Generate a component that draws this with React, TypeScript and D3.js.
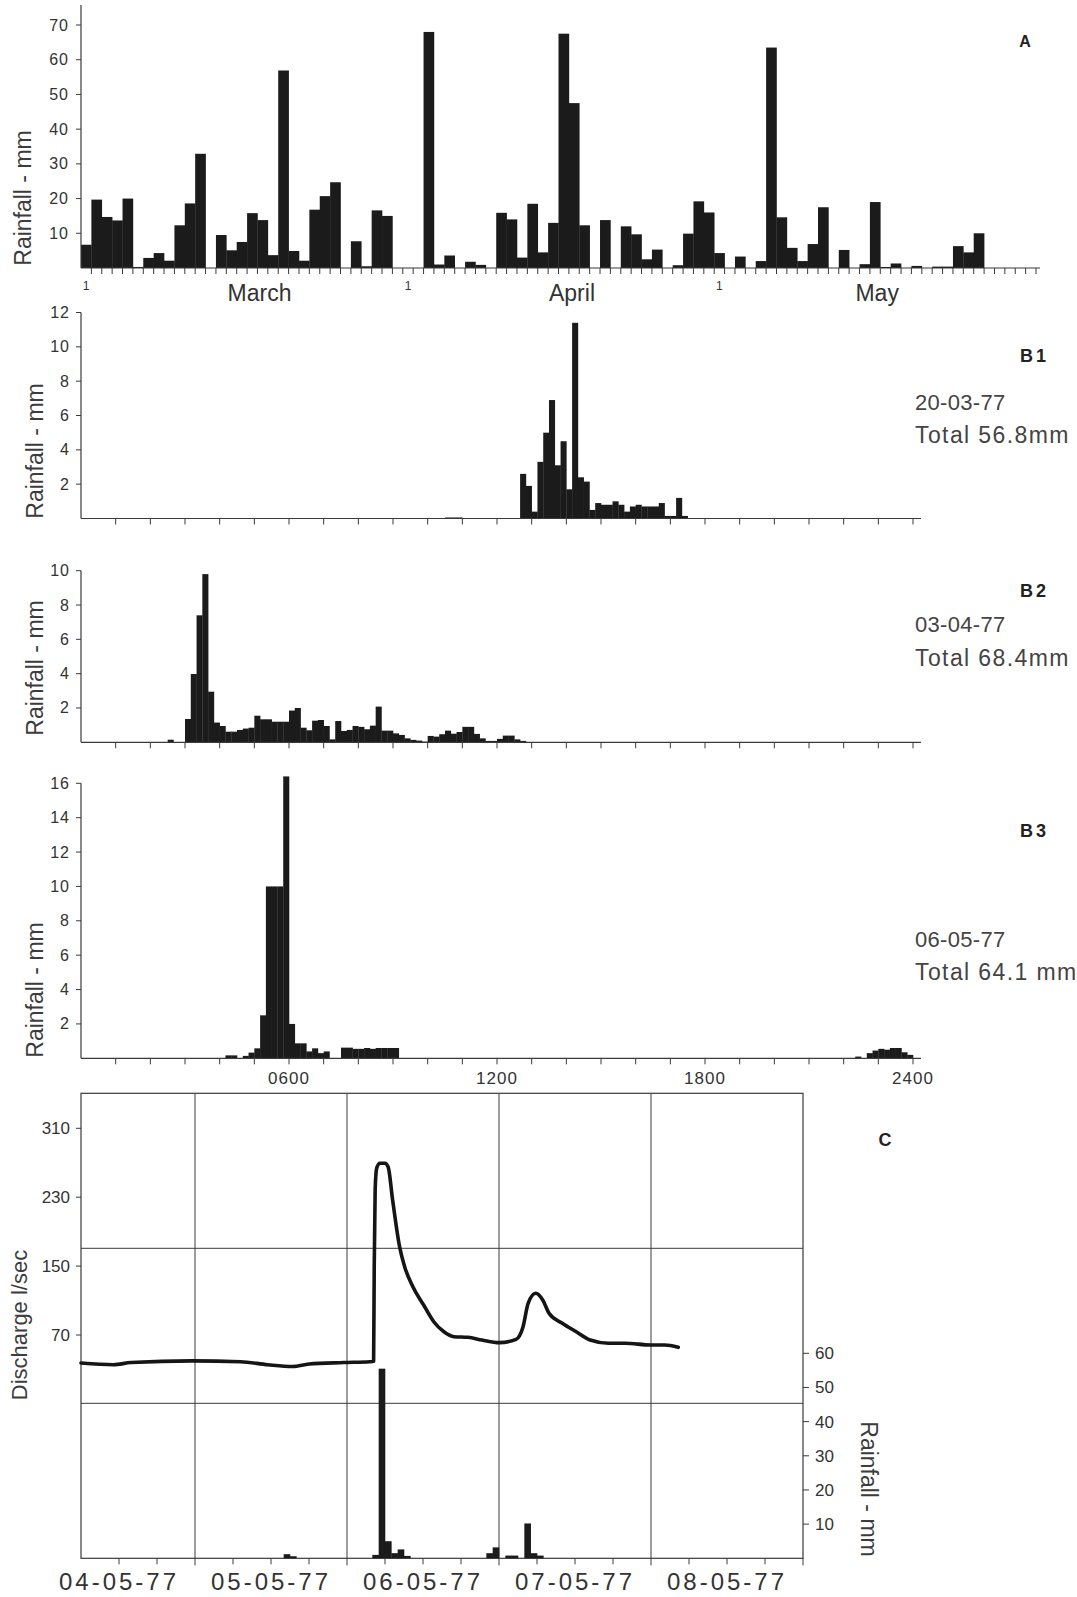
import React from "react";
import * as d3 from "d3";

// ---------------- DATA ----------------
// Panel A: daily rainfall (mm), 1 March .. 31 May 1977
const aDailyRainfall: number[] = [
  // March
  6.7, 19.7, 14.7, 13.7, 20, 0.3, 2.9, 4.3, 2.1, 12.3, 18.6, 32.9, 0, 9.5, 5.1, 7.5,
  15.8, 13.8, 3.7, 56.9, 4.9, 2.1, 16.8, 20.7, 24.7, 0, 7.7, 0.5, 16.6, 15, 0,
  // April
  0, 0, 68, 1, 3.6, 0, 1.8, 0.9, 0, 15.9, 14, 3, 18.5, 4.5, 13, 67.5, 47.5, 12.3, 0,
  13.8, 0, 12, 9.7, 2.5, 5.3, 0, 0.8, 9.9, 19.2, 16,
  // May
  4.3, 0, 3.3, 0, 2, 63.5, 14.6, 5.8, 2, 6.9, 17.5, 0, 5.2, 0, 1.1, 19, 0.3, 1.3, 0,
  0.6, 0, 0.4, 0.4, 6.3, 4.5, 10, 0, 0, 0, 0, 0,
];
const aMonthNames = ["March", "April", "May"];
const aMonthStartDay = [0, 31, 61];
const aMonthLabelDay = [17.2, 47.3, 76.7];
const aYTicks = [10, 20, 30, 40, 50, 60, 70];

// Panels B: 10-minute rainfall (mm), segments start at "HH:MM"
type Seg = { start: string; values: number[] };
const b1Segments: Seg[] = [
  { start: "10:30", values: [0.06, 0.06, 0.06] },
  {
    start: "12:40",
    values: [2.6, 1.9, 0.4, 3.3, 5.0, 6.9, 3.1, 4.5, 1.7, 11.4, 2.4, 2.15, 0.5, 0.9, 0.8,
      0.8, 1.0, 0.8, 0.4, 0.7, 0.8, 0.7, 0.7, 0.7, 0.9, 0.15, 0.15, 1.2, 0.15],
  },
];
const b2Segments: Seg[] = [
  { start: "02:30", values: [0.15] },
  {
    start: "03:00",
    values: [1.36, 3.98, 7.4, 9.8, 2.95, 1.15, 0.95, 0.62, 0.62, 0.72, 0.8, 0.85, 1.55, 1.34,
      1.34, 1.2, 1.2, 1.2, 1.85, 2.0, 0.85, 0.7, 1.26, 1.3, 0.95, 0.17, 1.24, 0.66, 0.72, 0.95,
      0.9, 0.76, 0.97, 2.08, 0.68, 0.68, 0.52, 0.43, 0.23, 0.14, 0.1, 0.04, 0.37, 0.33, 0.47,
      0.68, 0.5, 0.6, 0.9, 0.9, 0.49, 0.23, 0.08, 0.08, 0.2, 0.39, 0.39, 0.17, 0.08],
  },
];
const b3Segments: Seg[] = [
  { start: "04:10", values: [0.17, 0.17] },
  { start: "04:40", values: [0.14, 0.33, 0.58, 2.5, 10, 10, 10, 16.4, 2.0, 0.87, 0.87, 0.4, 0.58, 0.3, 0.4] },
  { start: "07:30", values: [0.62, 0.62, 0.55, 0.55, 0.6, 0.55, 0.6, 0.6, 0.6, 0.6] },
  { start: "22:20", values: [0.1, 0, 0.3, 0.45, 0.55, 0.5, 0.6, 0.6, 0.35, 0.2] },
];
const bHourLabels = ["0600", "1200", "1800", "2400"];
const bHourLabelHours = [6, 12, 18, 24];

// Panel C: discharge (l/sec) vs hours since 04-05-77 00:00
const cDischargeHours = [6, 11.1, 13.9, 23.6, 31.2, 35.5, 39.4, 42, 47.5, 51.6, 52.2, 52.3, 52.45,
  52.7, 53.2, 54.0, 54.5, 55.2, 56.3, 57.1, 58.4, 60.1, 61.7, 63.3, 64.9, 67.1, 69.3, 72, 74.7,
  75.8, 76.6, 77.8, 78.9, 79.9, 82, 84.2, 86.4, 89.3, 91.9, 96, 98.2, 100.3];
const cDischarge = [37.5, 35.5, 38, 40, 39, 35.5, 33.5, 36.3, 38, 39, 39.5, 150, 240,
  264, 269.5, 269.5, 265, 227, 172.6, 149.3, 126, 104.8, 85.4, 73.8, 68, 67.3, 64.2, 61.1, 65,
  79.6, 106.8, 118.4, 110.7, 95.2, 83.6, 73.8, 64.2, 60.4, 60.4, 58.4, 58.4, 55.7];
// Panel C: hourly rainfall (mm), segments start at hour since 04-05-77 00:00
const cRainSegments = [
  { start: 38, values: [1.2, 0.6] },
  { start: 52, values: [1.0, 55.5, 5.0, 1.5, 2.6, 0.7] },
  { start: 70, values: [1.5, 3.2] },
  { start: 73, values: [0.8, 0.8] },
  { start: 76, values: [10.2, 1.5, 0.8] },
];
const cDischargeTicks = [70, 150, 230, 310];
const cRainTicks = [10, 20, 30, 40, 50, 60];
const cDateLabels = ["04-05-77", "05-05-77", "06-05-77", "07-05-77", "08-05-77"];

// ---------------- STYLE ----------------
const FONT = "'Liberation Sans', Arial, Helvetica, sans-serif";
const INK = "#1b1b1b";
const AXIS = "#3a3a3a";
const TXT = "#333";

const toMin = (s: string) => {
  const [h, m] = s.split(":").map(Number);
  return h * 60 + m;
};

function RotLabel({ x, y, text, rot = -90, size = 23 }: any) {
  return (
    <text
      transform={`translate(${x},${y}) rotate(${rot})`}
      textAnchor="middle"
      fontSize={size}
      fill="#3c3c3c"
      fontFamily={FONT}
    >
      {text}
    </text>
  );
}

function PanelA() {
  const x = d3.scaleLinear().domain([0, 92]).range([81, 1036]);
  const y = d3.scaleLinear().domain([0, 70]).range([268, 25]);
  const days = d3.range(93);
  return (
    <g>
      {aDailyRainfall.map((v, i) =>
        v > 0 ? (
          <rect key={i} x={x(i)} y={y(v)} width={x(i + 1) - x(i) + 0.3} height={y(0) - y(v)} fill={INK} />
        ) : null
      )}
      <line x1={81} y1={5} x2={81} y2={268} stroke={AXIS} strokeWidth={1.2} />
      <line x1={81} y1={268} x2={1040} y2={268} stroke={AXIS} strokeWidth={1.2} />
      {days.slice(1).map((d) => (
        <line key={d} x1={x(d)} x2={x(d)} y1={268} y2={274} stroke={AXIS} strokeWidth={1} />
      ))}
      {aYTicks.map((t) => (
        <g key={t}>
          <line x1={76} x2={81} y1={y(t)} y2={y(t)} stroke={AXIS} strokeWidth={1} />
          <text x={69} y={y(t) + 5.5} textAnchor="end" fontSize={16} letterSpacing={1} fill={TXT} fontFamily={FONT}>
            {t}
          </text>
        </g>
      ))}
      {aMonthStartDay.map((d, i) => (
        <text key={"s" + i} x={x(d + 0.5)} y={290} textAnchor="middle" fontSize={12} fill={TXT} fontFamily={FONT}>
          1
        </text>
      ))}
      {aMonthNames.map((m, i) => (
        <text key={m} x={x(aMonthLabelDay[i])} y={301} textAnchor="middle" fontSize={23} fill={TXT} fontFamily={FONT}>
          {m}
        </text>
      ))}
      <text x={1025} y={47} textAnchor="middle" fontSize={16} fontWeight="bold" fill="#222" fontFamily={FONT}>
        A
      </text>
      <RotLabel x={31} y={198} text="Rainfall - mm" />
    </g>
  );
}

function PanelB({ segments, yMax, baseline, top, name, date, total, labelYs, yLabelY, showHours }: any) {
  const x = d3.scaleLinear().domain([0, 24]).range([81, 913]);
  const y = d3.scaleLinear().domain([0, yMax]).range([baseline, top]);
  const ticks = d3.range(2, yMax + 1, 2);
  const bars: { t0: number; t1: number; v: number }[] = [];
  segments.forEach((s: Seg) => {
    const m0 = toMin(s.start);
    s.values.forEach((v, i) => {
      if (v > 0) bars.push({ t0: (m0 + i * 10) / 60, t1: (m0 + (i + 1) * 10) / 60, v });
    });
  });
  return (
    <g>
      {bars.map((b, i) => (
        <rect key={i} x={x(b.t0)} y={y(b.v)} width={x(b.t1) - x(b.t0) + 0.3} height={baseline - y(b.v)} fill={INK} />
      ))}
      <line x1={81} y1={top} x2={81} y2={baseline} stroke={AXIS} strokeWidth={1.2} />
      <line x1={81} y1={baseline} x2={921} y2={baseline} stroke={AXIS} strokeWidth={1.2} />
      {d3.range(1, 25).map((h) => (
        <line key={h} x1={x(h)} x2={x(h)} y1={baseline} y2={baseline + 6} stroke={AXIS} strokeWidth={1} />
      ))}
      {ticks.map((t) => (
        <g key={t}>
          <line x1={76} x2={81} y1={y(t)} y2={y(t)} stroke={AXIS} strokeWidth={1} />
          <text x={70} y={y(t) + 5.5} textAnchor="end" fontSize={16} letterSpacing={1} fill={TXT} fontFamily={FONT}>
            {t}
          </text>
        </g>
      ))}
      {showHours &&
        bHourLabels.map((l, i) => (
          <text key={l} x={x(bHourLabelHours[i])} y={1084} textAnchor="middle" fontSize={17} letterSpacing={1} fill={TXT} fontFamily={FONT}>
            {l}
          </text>
        ))}
      <text x={1020} y={labelYs[0] + 6.5} fontSize={18} fontWeight="bold" letterSpacing={3} fill="#222" fontFamily={FONT}>
        {name}
      </text>
      <text x={915} y={labelYs[1] + 8} fontSize={22} letterSpacing={0.3} fill="#444" fontFamily={FONT}>
        {date}
      </text>
      <text x={915} y={labelYs[2] + 8} fontSize={23} letterSpacing={1.4} fill="#444" fontFamily={FONT}>
        {total}
      </text>
      <RotLabel x={43} y={yLabelY} text="Rainfall - mm" />
    </g>
  );
}

function PanelC() {
  const left = 81, right = 803, top = 1093.3, bottom = 1558.3;
  const x = d3.scaleLinear().domain([6, 120]).range([left, right]);
  const q = d3.scaleLinear().domain([70, 310]).range([1335, 1128.3]);
  const r = d3.scaleLinear().domain([0, 60]).range([bottom, 1353.3]);
  const rows = [top + (bottom - top) / 3, top + (2 * (bottom - top)) / 3];
  const line = d3
    .line<number>()
    .x((_, i) => x(cDischargeHours[i]))
    .y((d) => q(d))
    .curve(d3.curveMonotoneX);
  const bars: { h: number; v: number }[] = [];
  cRainSegments.forEach((s) => s.values.forEach((v, i) => bars.push({ h: s.start + i, v })));
  return (
    <g>
      <rect x={left} y={top} width={right - left} height={bottom - top} fill="none" stroke={AXIS} strokeWidth={1.2} />
      {rows.map((ry, i) => (
        <line key={i} x1={left} x2={right} y1={ry} y2={ry} stroke={AXIS} strokeWidth={1} />
      ))}
      {[24, 48, 72, 96].map((h) => (
        <line key={h} x1={x(h)} x2={x(h)} y1={top} y2={bottom + 7} stroke={AXIS} strokeWidth={1} />
      ))}
      <line x1={right} x2={right} y1={bottom} y2={bottom + 7} stroke={AXIS} strokeWidth={1} />
      {d3.range(12, 120, 6)
        .filter((h) => h % 24 !== 0)
        .map((h) => (
          <line key={h} x1={x(h)} x2={x(h)} y1={bottom} y2={bottom + 6} stroke={AXIS} strokeWidth={1} />
        ))}
      {bars.map((b, i) => (
        <rect key={i} x={x(b.h)} y={r(b.v)} width={x(b.h + 1) - x(b.h) + 0.3} height={bottom - r(b.v)} fill={INK} />
      ))}
      <path d={line(cDischarge) || ""} fill="none" stroke="#151515" strokeWidth={3.6} strokeLinejoin="round" strokeLinecap="round" />
      {cDischargeTicks.map((t) => (
        <g key={t}>
          <line x1={76} x2={left} y1={q(t)} y2={q(t)} stroke={AXIS} strokeWidth={1} />
          <text x={70} y={q(t) + 6} textAnchor="end" fontSize={17} fill={TXT} fontFamily={FONT}>
            {t}
          </text>
        </g>
      ))}
      {cRainTicks.map((t) => (
        <g key={t}>
          <line x1={right} x2={right + 6} y1={r(t)} y2={r(t)} stroke={AXIS} strokeWidth={1} />
          <text x={815} y={r(t) + 6} fontSize={17} fill={TXT} fontFamily={FONT}>
            {t}
          </text>
        </g>
      ))}
      {cDateLabels.map((l, i) => (
        <text key={l} x={x(12 + 24 * i)} y={1590} textAnchor="middle" fontSize={24} letterSpacing={3} fill={TXT} fontFamily={FONT}>
          {l}
        </text>
      ))}
      <text x={885} y={1146} textAnchor="middle" fontSize={18} fontWeight="bold" fill="#222" fontFamily={FONT}>
        C
      </text>
      <RotLabel x={27} y={1325} text="Discharge l/sec" size={22} />
      <RotLabel x={861} y={1489} text="Rainfall - mm" rot={90} />
    </g>
  );
}

export default function App() {
  return (
    <svg
      width={1077}
      height={1597}
      viewBox="0 0 1077 1597"
      style={{ position: "absolute", left: 0, top: 0, background: "#fff", display: "block" }}
    >
      <rect x={0} y={0} width={1077} height={1597} fill="#fff" />
      <PanelA />
      <PanelB
        segments={b1Segments}
        yMax={12}
        baseline={518.5}
        top={312.5}
        name="B1"
        date="20-03-77"
        total="Total 56.8mm"
        labelYs={[355.5, 401.5, 434.5]}
        yLabelY={451}
      />
      <PanelB
        segments={b2Segments}
        yMax={10}
        baseline={742.3}
        top={570.7}
        name="B2"
        date="03-04-77"
        total="Total 68.4mm"
        labelYs={[590, 624, 658]}
        yLabelY={668}
      />
      <PanelB
        segments={b3Segments}
        yMax={16}
        baseline={1058.3}
        top={783.3}
        name="B3"
        date="06-05-77"
        total="Total 64.1 mm"
        labelYs={[830, 938.5, 971.5]}
        yLabelY={990}
        showHours
      />
      <PanelC />
    </svg>
  );
}
